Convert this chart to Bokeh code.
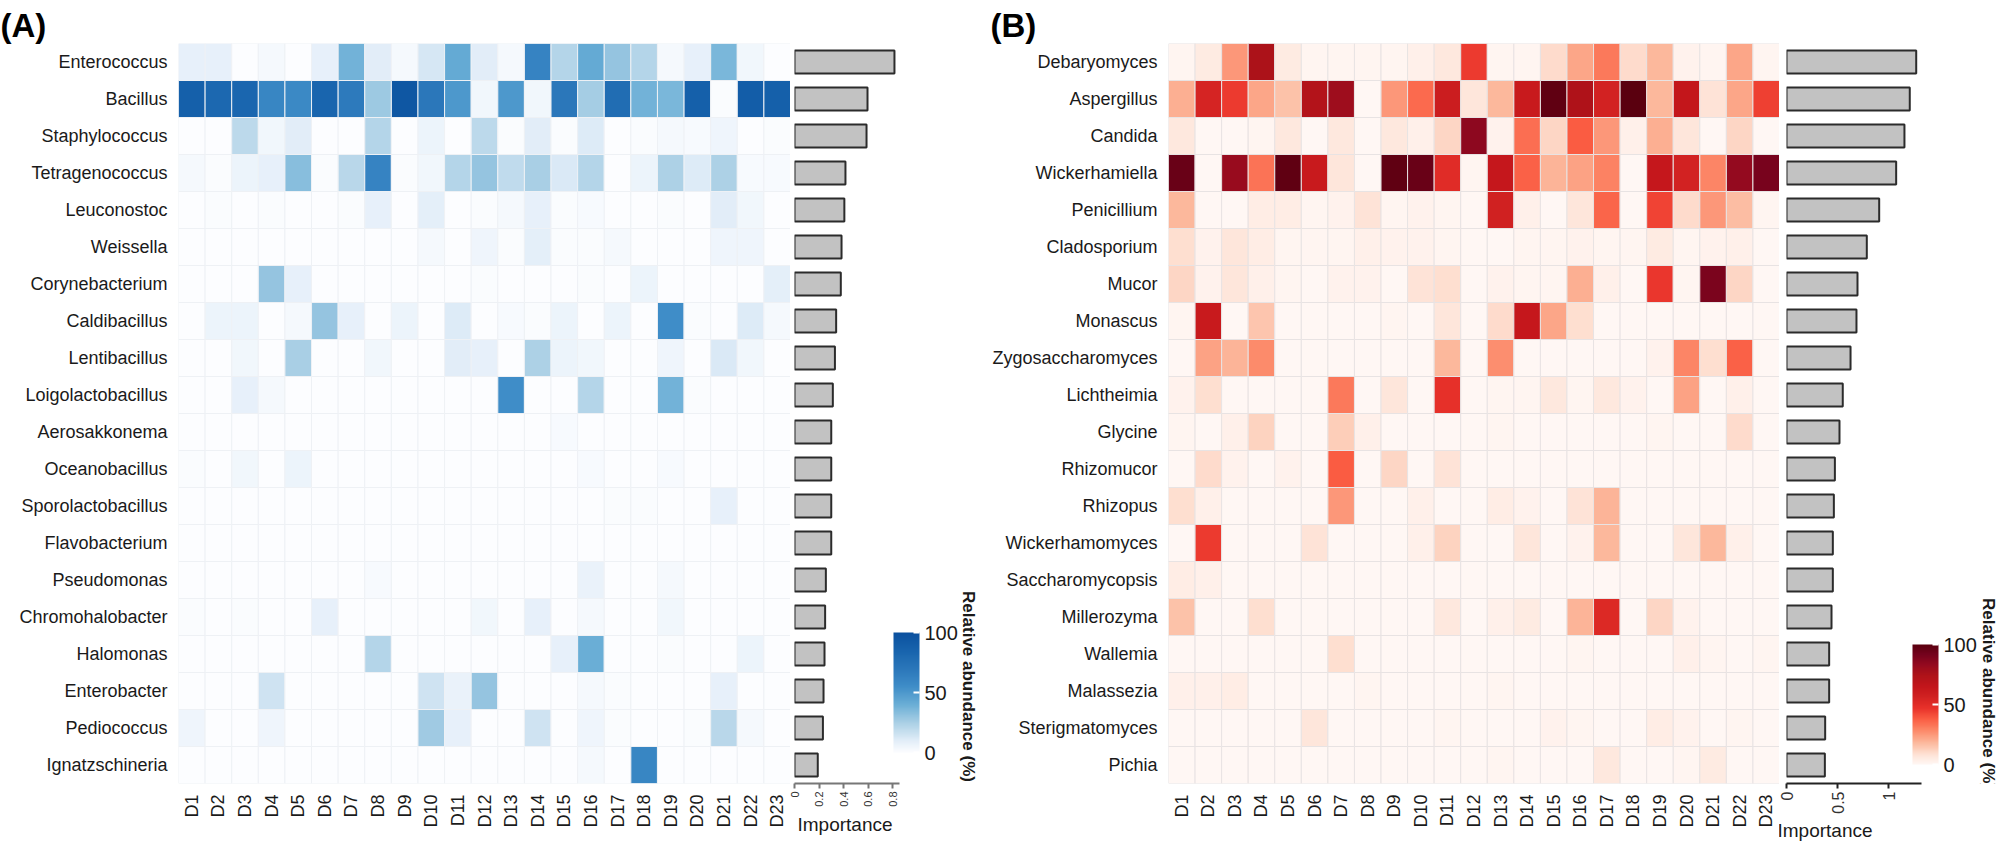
from math import pi

import numpy as np
import pandas as pd
from bokeh.embed import file_html
from bokeh.layouts import row
from bokeh.models import (ColorBar, ColumnDataSource, FixedTicker, Label, LinearColorMapper, Range1d,
                          Title)
from bokeh.resources import INLINE
from bokeh.plotting import figure

FONT = "Liberation Sans"
INK = "#1a1a1a"

# ---------------------------------------------------------------- samples
days = ["D1", "D2", "D3", "D4", "D5", "D6", "D7", "D8", "D9", "D10", "D11", "D12",
        "D13", "D14", "D15", "D16", "D17", "D18", "D19", "D20", "D21", "D22", "D23"]

# ---------------------------------------------------------------- bacteria (%)
bacteria = ["Enterococcus", "Bacillus", "Staphylococcus", "Tetragenococcus", "Leuconostoc",
            "Weissella", "Corynebacterium", "Caldibacillus", "Lentibacillus", "Loigolactobacillus",
            "Aerosakkonema", "Oceanobacillus", "Sporolactobacillus", "Flavobacterium", "Pseudomonas",
            "Chromohalobacter", "Halomonas", "Enterobacter", "Pediococcus", "Ignatzschineria"]

enterococcus = [8, 8, 0, 3, 0, 8, 38, 10, 3, 13, 42, 10, 3, 62, 22, 42, 30, 22, 3, 8, 36, 4, 0]
bacillus = [88, 82, 83, 60, 58, 84, 68, 28, 95, 70, 50, 4, 50, 4, 70, 26, 78, 38, 36, 88, 1, 90, 88]
staphylococcus = [0, 0, 20, 4, 10, 0, 0, 22, 0, 6, 0, 20, 1, 10, 1, 11, 0, 1, 3, 2, 5, 0, 1]
tetragenococcus = [3, 1, 6, 8, 33, 1, 21, 62, 1, 4, 22, 30, 19, 25, 12, 22, 0, 6, 24, 11, 24, 2, 2]
leuconostoc = [0, 1, 0, 1, 0, 0, 1, 8, 0, 9, 0, 1, 3, 8, 1, 2, 0, 0, 1, 0, 10, 4, 0]
weissella = [0, 0, 0, 0, 0, 0, 0, 0, 0, 3, 0, 5, 1, 9, 1, 1, 3, 0, 0, 0, 5, 5, 0]
corynebacterium = [0, 0, 0, 30, 8, 0, 0, 0, 0, 0, 0, 1, 0, 0, 0, 1, 0, 6, 0, 0, 0, 0, 9]
caldibacillus = [0, 6, 6, 0, 3, 30, 8, 0, 6, 0, 11, 0, 2, 1, 6, 0, 6, 0, 55, 1, 0, 11, 3]
lentibacillus = [0, 0, 4, 0, 25, 0, 0, 4, 0, 0, 10, 8, 0, 24, 6, 4, 0, 0, 5, 0, 12, 4, 0]
loigolactobacillus = [0, 0, 8, 3, 0, 0, 0, 0, 0, 0, 0, 0, 55, 0, 0, 22, 0, 0, 38, 1, 0, 0, 0]
aerosakkonema = [0, 0, 0, 0, 0, 0, 0, 0, 0, 0, 0, 0, 0, 0, 2, 0, 0, 0, 0, 0, 0, 0, 0]
oceanobacillus = [1, 0, 4, 0, 6, 0, 0, 0, 0, 0, 0, 0, 0, 0, 0, 2, 0, 0, 2, 0, 0, 0, 0]
sporolactobacillus = [0, 0, 0, 0, 0, 0, 0, 0, 0, 0, 0, 0, 0, 0, 0, 0, 1, 1, 0, 0, 8, 0, 0]
flavobacterium = [0, 0, 0, 0, 0, 0, 0, 0, 0, 0, 0, 0, 0, 0, 0, 0, 0, 0, 0, 0, 0, 0, 0]
pseudomonas = [0, 0, 0, 0, 0, 0, 0, 2, 0, 0, 0, 0, 0, 0, 0, 7, 0, 0, 3, 0, 0, 0, 0]
chromohalobacter = [1, 0, 1, 0, 0, 8, 0, 0, 0, 0, 0, 4, 0, 8, 0, 3, 0, 0, 4, 0, 0, 0, 0]
halomonas = [0, 0, 0, 0, 0, 0, 0, 22, 0, 0, 0, 0, 0, 0, 8, 40, 0, 0, 1, 0, 0, 6, 0]
enterobacter = [0, 0, 0, 15, 0, 0, 0, 0, 0, 15, 7, 30, 0, 0, 0, 3, 1, 0, 0, 0, 8, 0, 0]
pediococcus = [5, 0, 0, 5, 0, 0, 0, 0, 0, 27, 8, 0, 0, 15, 0, 5, 1, 0, 0, 1, 21, 3, 0]
ignatzschineria = [0, 0, 0, 0, 0, 0, 0, 0, 0, 0, 0, 0, 0, 0, 0, 3, 0, 60, 0, 0, 0, 0, 0]

bacteria_importance = [0.816, 0.596, 0.588, 0.416, 0.407, 0.384, 0.378, 0.34, 0.33, 0.313,
                       0.30, 0.30, 0.30, 0.30, 0.256, 0.25, 0.245, 0.237, 0.232, 0.19]

# ---------------------------------------------------------------- fungi (%)
fungi = ["Debaryomyces", "Aspergillus", "Candida", "Wickerhamiella", "Penicillium",
         "Cladosporium", "Mucor", "Monascus", "Zygosaccharomyces", "Lichtheimia",
         "Glycine", "Rhizomucor", "Rhizopus", "Wickerhamomyces", "Saccharomycopsis",
         "Millerozyma", "Wallemia", "Malassezia", "Sterigmatomyces", "Pichia"]

debaryomyces = [1, 5, 25, 75, 5, 1, 1, 1, 1, 3, 6, 45, 1, 1, 10, 22, 32, 10, 18, 2, 1, 22, 1]
aspergillus = [20, 55, 45, 22, 16, 72, 80, 0, 25, 35, 60, 7, 18, 62, 98, 74, 56, 100, 18, 65, 8, 22, 44]
candida = [6, 0, 0, 1, 6, 0, 6, 0, 6, 3, 11, 85, 2, 34, 11, 38, 25, 3, 20, 7, 0, 11, 0]
wickerhamiella = [95, 0, 82, 33, 98, 62, 7, 0, 98, 95, 50, 1, 64, 37, 19, 23, 30, 0, 64, 56, 29, 83, 91]
penicillium = [18, 0, 0, 4, 4, 1, 2, 8, 1, 2, 1, 0, 57, 3, 0, 7, 36, 0, 43, 10, 25, 17, 1]
cladosporium = [9, 2, 7, 4, 1, 1, 1, 3, 2, 2, 1, 0, 0, 1, 1, 2, 1, 1, 5, 1, 2, 3, 0]
mucor = [11, 2, 7, 3, 1, 0, 2, 2, 0, 8, 9, 0, 2, 1, 1, 20, 3, 0, 46, 1, 90, 11, 0]
monascus = [1, 62, 0, 15, 0, 0, 0, 0, 1, 0, 7, 0, 10, 64, 22, 9, 0, 0, 0, 0, 0, 0, 0]
zygosaccharomyces = [0, 23, 19, 28, 0, 0, 0, 0, 0, 0, 18, 0, 27, 0, 0, 0, 0, 0, 2, 29, 9, 37, 0]
lichtheimia = [2, 9, 0, 0, 0, 0, 32, 0, 7, 0, 48, 0, 1, 1, 6, 1, 6, 2, 0, 23, 0, 3, 0]
glycine = [1, 0, 3, 12, 0, 0, 13, 3, 0, 0, 0, 0, 1, 0, 0, 0, 0, 0, 1, 0, 0, 10, 0]
rhizomucor = [0, 10, 2, 0, 2, 0, 38, 0, 11, 0, 8, 0, 0, 0, 0, 0, 0, 0, 0, 0, 0, 0, 0]
rhizopus = [9, 3, 0, 0, 0, 0, 25, 0, 0, 3, 0, 0, 4, 2, 0, 8, 19, 0, 0, 0, 0, 0, 0]
wickerhamomyces = [0, 45, 0, 0, 0, 8, 0, 0, 0, 3, 12, 0, 0, 7, 0, 2, 18, 0, 0, 7, 18, 3, 0]
saccharomycopsis = [4, 3, 0, 0, 0, 0, 0, 0, 0, 0, 0, 0, 0, 0, 0, 0, 0, 0, 0, 0, 0, 0, 0]
millerozyma = [16, 0, 0, 9, 0, 0, 0, 0, 0, 0, 6, 0, 3, 5, 0, 19, 52, 0, 11, 2, 0, 0, 0]
wallemia = [0, 0, 0, 0, 0, 0, 9, 0, 0, 0, 0, 0, 0, 0, 0, 1, 0, 0, 0, 3, 1, 0, 1]
malassezia = [3, 3, 4, 0, 0, 0, 0, 1, 0, 0, 0, 0, 1, 0, 0, 0, 0, 0, 0, 0, 0, 0, 0]
sterigmatomyces = [0, 0, 0, 0, 0, 7, 0, 0, 0, 0, 1, 0, 0, 0, 2, 1, 0, 0, 4, 2, 0, 1, 0]
pichia = [0, 0, 0, 0, 0, 0, 0, 0, 0, 0, 0, 0, 1, 0, 0, 0, 6, 0, 0, 1, 5, 0, 0]

fungi_importance = [1.268, 1.205, 1.153, 1.072, 0.906, 0.785, 0.694, 0.684, 0.626, 0.55,
                    0.518, 0.473, 0.463, 0.453, 0.453, 0.44, 0.417, 0.417, 0.378, 0.375]

bacteria_rows = [enterococcus, bacillus, staphylococcus, tetragenococcus, leuconostoc,
                 weissella, corynebacterium, caldibacillus, lentibacillus, loigolactobacillus,
                 aerosakkonema, oceanobacillus, sporolactobacillus, flavobacterium, pseudomonas,
                 chromohalobacter, halomonas, enterobacter, pediococcus, ignatzschineria]
fungi_rows = [debaryomyces, aspergillus, candida, wickerhamiella, penicillium,
              cladosporium, mucor, monascus, zygosaccharomyces, lichtheimia,
              glycine, rhizomucor, rhizopus, wickerhamomyces, saccharomycopsis,
              millerozyma, wallemia, malassezia, sterigmatomyces, pichia]


def ramp(stops, n=256):
    """Linear RGB ramp through (position, hex) stops."""
    pos = [s for s, _ in stops]
    rgb = np.array([[int(c[i:i + 2], 16) for i in (1, 3, 5)] for _, c in stops], dtype=float)
    t = np.linspace(0, 1, n)
    ch = [np.interp(t, pos, rgb[:, k]) for k in range(3)]
    return ["#%02x%02x%02x" % (int(round(r)), int(round(g)), int(round(b))) for r, g, b in zip(*ch)]


blues = ramp([(0, "#FCFDFF"), (0.1, "#E1EDF8"), (0.25, "#A9CFE5"), (0.4, "#6AAED6"),
              (0.55, "#3F8DC8"), (0.7, "#2B77BA"), (0.85, "#1864AD"), (1.0, "#0B519F")])
reds = ramp([(0, "#FFF7F4"), (0.08, "#FEE3D6"), (0.18, "#FCB89C"), (0.28, "#FC8A6A"),
             (0.38, "#FA5C42"), (0.47, "#E8312A"), (0.57, "#D02121"), (0.65, "#C3161B"),
             (0.75, "#AD1219"), (0.83, "#950A1F"), (0.92, "#74021D"), (1.0, "#5A000F")])


def heatmap(genera, rows, mapper, grid_color, width, left, top, bottom, tag, tag_offset):
    long = pd.DataFrame([(g, d, v) for g, vals in zip(genera, rows) for d, v in zip(days, vals)],
                        columns=["genus", "day", "abundance"])
    p = figure(x_range=days, y_range=genera[::-1], width=width, height=847, title=tag,
               min_border_left=left, min_border_right=0, min_border_top=top, min_border_bottom=bottom,
               toolbar_location=None, output_backend="svg")
    p.rect(x="day", y="genus", width=1, height=1, source=ColumnDataSource(long),
           fill_color={"field": "abundance", "transform": mapper},
           line_color=grid_color, line_width=1)
    p.grid.grid_line_color = None
    p.outline_line_color = None
    p.axis.axis_line_color = None
    p.axis.major_tick_line_color = None
    p.axis.minor_tick_line_color = None
    p.axis.major_label_text_font = FONT
    p.axis.major_label_text_font_size = "18px"
    p.axis.major_label_text_color = INK
    p.axis.major_label_standoff = 5
    p.xaxis.major_label_orientation = pi / 2
    # panel tag, pulled left towards the page edge
    p.title.text_font = FONT
    p.title.text_font_size = "33px"
    p.title.text_font_style = "bold"
    p.title.text_color = "black"
    p.title.align = "left"
    p.title.offset = tag_offset
    p.title.standoff = 0
    return p


def importance(genera, values, y_range, width, left, top, bottom, xmax, bound, ticks, overrides,
               tick_size, axis_color, label_offset, label_standoff):
    p = figure(y_range=y_range, x_range=Range1d(0, xmax), width=width, height=847,
               min_border_left=left, min_border_right=0, min_border_top=top, min_border_bottom=bottom,
               toolbar_location=None, output_backend="svg")
    p.hbar(y="genus", left=0, right="importance", height=0.62,
           source=ColumnDataSource(dict(genus=genera, importance=values)),
           fill_color="#c2c2c2", line_color="#2b2b2b", line_width=2)
    p.yaxis.visible = False
    p.grid.grid_line_color = None
    p.outline_line_color = None
    ax = p.xaxis[0]
    ax.bounds = (0, bound)
    ax.ticker = FixedTicker(ticks=ticks)
    ax.major_label_overrides = overrides
    ax.major_label_orientation = pi / 2
    ax.major_label_text_font = FONT
    ax.major_label_text_font_size = tick_size
    ax.major_label_text_color = "#333333"
    ax.major_label_standoff = 3
    ax.axis_line_color = axis_color
    ax.axis_line_width = 2
    ax.major_tick_line_color = axis_color
    ax.major_tick_line_width = 2
    ax.major_tick_out = 5
    ax.major_tick_in = 0
    ax.minor_tick_line_color = None
    # axis title sits under the scale, left-aligned with it
    p.add_layout(Title(text="Importance", align="left", offset=label_offset, standoff=label_standoff,
                       vertical_align="top", text_font=FONT, text_font_size="19px",
                       text_font_style="normal", text_color=INK), "below")
    return p


def legend(p, mapper, loc, title_xy):
    cb = ColorBar(color_mapper=mapper, ticker=FixedTicker(ticks=[0, 50, 100]),
                  width=26, height=120, location=loc, padding=0, margin=0, label_standoff=5,
                  major_label_text_font=FONT, major_label_text_font_size="20px",
                  major_label_text_color=INK, major_tick_line_color="white", major_tick_line_width=2,
                  major_tick_in=6, major_tick_out=0, minor_tick_line_color=None,
                  bar_line_color=None, border_line_color=None, background_fill_alpha=0)
    p.add_layout(cb)
    p.add_layout(Label(x=title_xy[0], y=title_xy[1], x_units="screen", y_units="screen",
                       text="Relative abundance (%)", angle=-pi / 2, text_align="center",
                       text_baseline="middle", text_font=FONT, text_font_size="17px",
                       text_font_style="bold", text_color=INK))


map_a = LinearColorMapper(palette=blues, low=0, high=100)
map_b = LinearColorMapper(palette=reds, low=0, high=100)

heat_a = heatmap(bacteria, bacteria_rows, map_a, "#eef1f5", 790, 178, 38, 64, "(A)", -178)
bars_a = importance(bacteria, bacteria_importance, heat_a.y_range, 190, 4, 38, 64, 186 / 122.5, 0.86,
                    [0, 0.2, 0.4, 0.6, 0.8], {0: "0"}, "11px", "#777777", 3, 8)
legend(bars_a, map_a, (99, 31), (174, 97))

heat_b = heatmap(fungi, fungi_rows, map_b, "#e8e3e3", 799, 188, 43, 60, "(B)", -178)
bars_b = importance(fungi, fungi_importance, heat_b.y_range, 221, 7, 43, 60, 214 / 102.3, 1.32,
                    [0, 0.5, 1], {0: "0", 1: "1"}, "16px", "#222222", -9, 6)
legend(bars_b, map_b, (126, 19), (202, 90))

layout = row(heat_a, bars_a, heat_b, bars_b, spacing=0)
open("out.html", "w").write(file_html(layout, INLINE))
